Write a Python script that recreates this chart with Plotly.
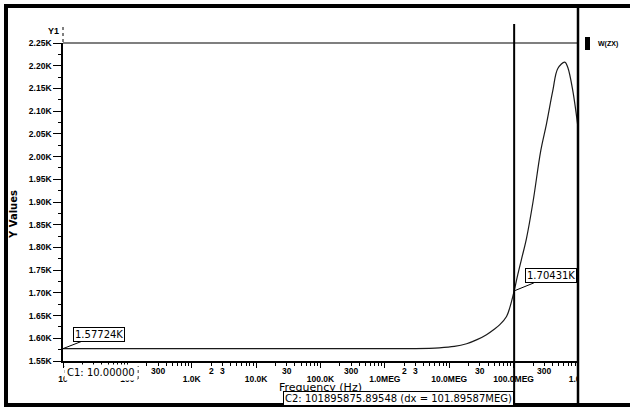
import math
import plotly.graph_objects as go

# ---------------- data ----------------
freq_hz = [10, 100, 1e3, 1e4, 1e5, 1e6, 3e6, 7e6, 1.2e7, 1.86e7, 2.7e7, 3.79e7, 5e7,
           6.1e7, 7.76e7, 8.74e7, 1.0189587589548e8, 1.16e8, 1.33e8, 1.585e8, 2.0e8,
           2.64e8, 3.24e8, 4.06e8, 4.86e8, 6.24e8, 6.95e8, 8.3e8, 1e9]
w_zx = [1577.24, 1577.24, 1577.24, 1577.24, 1577.24, 1577.24, 1577.4, 1579, 1582, 1588,
        1597, 1608, 1620, 1630, 1648, 1668, 1704.31, 1740, 1775, 1820, 1900,
        2013, 2072, 2145, 2194, 2208, 2196, 2145, 2064]

x_major_vals = [10, 100, 1e3, 1e4, 1e5, 1e6, 1e7, 1e8, 1e9]
x_major_text = ["10", "100", "1.0K", "10.0K", "100.0K", "1.0MEG", "10.0MEG", "100.0MEG", "1.0G"]
x_minor_label_vals = [30, 300, 2e3, 3e3, 3e4, 3e5, 2e6, 3e6, 3e7, 3e8]
x_minor_label_text = ["30", "300", "2", "3", "30", "300", "2", "3", "30", "300"]
x_minor_ticks = [m * 10 ** d for d in range(1, 9) for m in range(2, 10)]

y_tick_vals = [1550, 1600, 1650, 1700, 1750, 1800, 1850, 1900, 1950, 2000, 2050, 2100, 2150, 2200, 2250]
y_tick_text = ["1.55K", "1.60K", "1.65K", "1.70K", "1.75K", "1.80K", "1.85K", "1.90K",
               "1.95K", "2.00K", "2.05K", "2.10K", "2.15K", "2.20K", "2.25K"]

c1_freq = 10.0
c1_val = 1577.24
c2_freq = 101895875.89548
c2_val = 1704.31
c1_text = "C1: 10.00000"
c2_text = "C2: 101895875.89548 (dx = 101.89587MEG)"
c1_label = "1.57724K"
c2_label = "1.70431K"
trace_name = "W(ZX)"

# ---------------- geometry helpers (pixel -> paper) ----------------
W, H = 630, 408
L, R, T, B = 63, 52, 43, 47
PW, PH = W - L - R, H - T - B


def px(X):
    return (X - L) / PW


def py(Y):
    return (H - B - Y) / PH


TICKFONT = dict(family="Liberation Sans", size=8.5, color="black", weight="bold")
BOXFONT = dict(family="DejaVu Sans", size=10, color="black")

fig = go.Figure()
fig.add_trace(go.Scatter(x=freq_hz, y=w_zx, mode="lines", name=trace_name,
                         line=dict(color="#1a1a1a", width=1.2), showlegend=False,
                         line_shape="spline"))

fig.update_layout(
    width=W, height=H,
    margin=dict(l=L, r=R, t=T, b=B, pad=0),
    paper_bgcolor="white", plot_bgcolor="white",
    xaxis=dict(type="log", range=[1, 9], showgrid=False, zeroline=False,
               showline=True, linecolor="black", linewidth=1.5,
               ticks="outside", ticklen=5, tickcolor="black", tickwidth=1,
               tickmode="array", tickvals=x_major_vals, ticktext=x_major_text,
               tickfont=TICKFONT, ticklabelstandoff=4,
               minor=dict(tickmode="array", tickvals=x_minor_ticks, ticks="outside",
                          ticklen=3, tickcolor="black", tickwidth=1, showgrid=False)),
    yaxis=dict(range=[1550, 2250], showgrid=False, zeroline=False,
               showline=True, linecolor="black", linewidth=1.5,
               ticks="outside", ticklen=8, tickcolor="black", tickwidth=1,
               tickmode="array", tickvals=y_tick_vals, ticktext=y_tick_text,
               tickfont=TICKFONT,
               minor=dict(dtick=25, tick0=1550, ticks="outside", ticklen=3,
                          tickcolor="black", tickwidth=1, showgrid=False)),
)

shapes = [
    # cover right half of last tick label (legend panel)
    dict(type="rect", xref="paper", yref="paper", x0=px(579), x1=px(626), y0=py(403), y1=py(362),
         fillcolor="white", line=dict(width=0), layer="above"),
    # top line at 2.25K
    dict(type="line", xref="paper", yref="paper", x0=0, x1=1, y0=1, y1=1,
         line=dict(color="black", width=1.2), layer="above"),
    # panel divider
    dict(type="line", xref="paper", yref="paper", x0=1, x1=1, y0=py(405), y1=py(6),
         line=dict(color="black", width=2.5), layer="above"),
    # cursor C2
    dict(type="line", xref="x", yref="paper", x0=c2_freq, x1=c2_freq, y0=py(405), y1=py(24),
         line=dict(color="black", width=2), layer="above"),
    # Y1 dotted marker
    dict(type="line", xref="paper", yref="paper", x0=0, x1=0, y0=py(42), y1=py(26),
         line=dict(color="black", width=1, dash="dot"), layer="above"),
    # legend swatch
    dict(type="rect", xref="paper", yref="paper", x0=px(585), x1=px(590), y0=py(50), y1=py(37),
         fillcolor="black", line=dict(width=0), layer="above"),
    # C1 box edges
    dict(type="line", xref="paper", yref="paper", x0=px(65), x1=px(138), y0=py(379), y1=py(379),
         line=dict(color="black", width=1, dash="dash"), layer="above"),
    dict(type="line", xref="paper", yref="paper", x0=px(65), x1=px(65), y0=py(379), y1=py(366),
         line=dict(color="black", width=1, dash="dot"), layer="above"),
    dict(type="line", xref="paper", yref="paper", x0=px(138), x1=px(138), y0=py(379), y1=py(366),
         line=dict(color="black", width=1, dash="dot"), layer="above"),
    # outer frame
    dict(type="rect", xref="paper", yref="paper", x0=px(6), x1=px(645), y0=py(405), y1=py(6),
         line=dict(color="black", width=4), fillcolor="rgba(0,0,0,0)", layer="above"),
]
fig.update_layout(shapes=shapes)

ann = []
# minor x labels (raised)
for v, t in zip(x_minor_label_vals, x_minor_label_text):
    ann.append(dict(x=math.log10(v), y=py(371), xref="x", yref="paper", text=t, showarrow=False,
                    font=TICKFONT, xanchor="center", yanchor="middle"))
ann += [
    dict(x=px(61), y=py(31), xref="paper", yref="paper", text="Y1", showarrow=False,
         font=dict(family="Liberation Sans", size=9, color="black", weight="bold"),
         xanchor="right", yanchor="middle"),
    dict(x=px(596), y=py(44), xref="paper", yref="paper", text=trace_name, showarrow=False,
         font=dict(family="Liberation Sans", size=7, color="black", weight="bold"),
         xanchor="left", yanchor="middle"),
    dict(x=px(13), y=py(215), xref="paper", yref="paper", text="Y Values", showarrow=False,
         textangle=-90, font=dict(family="DejaVu Sans", size=10, color="black", weight="bold"),
         xanchor="center", yanchor="middle"),
    dict(x=px(320), y=py(387), xref="paper", yref="paper", text="Frequency (Hz)", showarrow=False,
         font=dict(family="DejaVu Sans", size=11, color="black"), xanchor="center", yanchor="middle"),
    dict(x=px(64), y=py(372), xref="paper", yref="paper", text=c1_text, showarrow=False,
         font=BOXFONT, xanchor="left", yanchor="middle", bgcolor="white", borderpad=2),
    dict(x=math.log10(c2_freq), y=py(398.5), xref="x", yref="paper", text=c2_text, showarrow=False,
         font=BOXFONT, xanchor="right", yanchor="middle", bgcolor="white",
         bordercolor="black", borderwidth=1, borderpad=1),
    dict(x=math.log10(c1_freq), y=c1_val, xref="x", yref="y", text=c1_label, showarrow=True,
         arrowhead=0, arrowwidth=1, arrowcolor="black", ax=36, ay=-14,
         font=BOXFONT, bgcolor="white", bordercolor="black", borderwidth=1, borderpad=1),
    dict(x=math.log10(c2_freq), y=c2_val, xref="x", yref="y", text=c2_label, showarrow=True,
         arrowhead=0, arrowwidth=1, arrowcolor="black", ax=37, ay=-15,
         font=BOXFONT, bgcolor="white", bordercolor="black", borderwidth=1, borderpad=1),
]
fig.update_layout(annotations=ann)

fig.write_html("out.html", config={"displayModeBar": False},
               post_script="document.body.style.margin='0px';")
